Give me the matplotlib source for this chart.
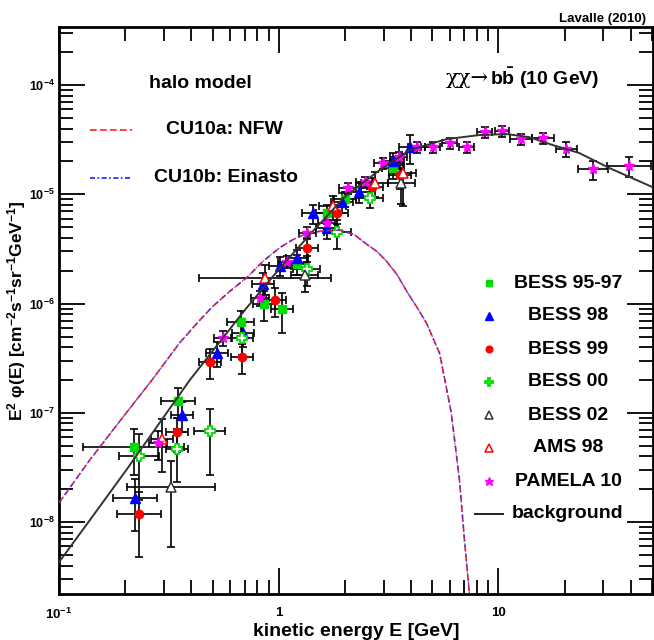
import matplotlib
matplotlib.use('Agg')
import matplotlib.pyplot as plt
import numpy as np
from matplotlib.ticker import LogLocator, NullFormatter

plt.rcParams['font.family'] = ['Liberation Sans', 'DejaVu Sans']
plt.rcParams['font.weight'] = 'bold'
plt.rcParams['mathtext.fontset'] = 'custom'
plt.rcParams['mathtext.rm'] = 'Liberation Sans:bold'
plt.rcParams['mathtext.bf'] = 'Liberation Sans:bold'
plt.rcParams['mathtext.it'] = 'Liberation Sans:italic:bold'
plt.rcParams['mathtext.sf'] = 'Liberation Sans:bold'
plt.rcParams['mathtext.default'] = 'rm'

# ---------------- data ----------------
# background (secondary antiprotons)
bg_E = [0.1, 0.138, 0.2, 0.394, 0.7, 1.0, 1.43, 2.0, 2.8, 3.94, 5.8, 8.2, 10.9, 13.8, 17.6, 23.3, 32.0, 50.0]
bg_F = [4.3e-9, 1.04e-8, 2.9e-8, 2.0e-7, 8.7e-7, 2.05e-6, 4.6e-6, 9.5e-6, 1.6e-5, 2.54e-5,
        3.2e-5, 3.49e-5, 3.56e-5, 3.34e-5, 2.83e-5, 2.39e-5, 1.74e-5, 1.17e-5]

# DM signal, chi chi -> b bbar, 10 GeV
dm_E = [0.1, 0.138, 0.2, 0.265, 0.355, 0.43, 0.5, 0.6, 0.716, 0.85, 1.01, 1.16, 1.34, 1.6, 1.89,
        2.2, 2.51, 2.8, 3.09, 3.45, 3.82, 4.25, 4.71, 5.4, 6.1, 6.65, 7.0, 7.38, 7.5]
nfw_F = [1.5e-8, 3.7e-8, 9.7e-8, 2.0e-7, 4.4e-7, 6.8e-7, 9.4e-7, 1.3e-6, 1.73e-6, 2.45e-6, 3.25e-6,
         3.85e-6, 4.37e-6, 4.65e-6, 4.7e-6, 4.3e-6, 3.5e-6, 3.0e-6, 2.45e-6, 1.85e-6, 1.3e-6,
         9.3e-7, 6.6e-7, 3.5e-7, 1.0e-7, 2.4e-8, 6.9e-9, 2.2e-9, 1.0e-9]
einasto_F = list(nfw_F)

# experiments: energy, flux, half bin width (dex), relative error
bess9597_E = [0.219, 0.348, 0.67, 0.86, 1.03, 1.21, 1.65, 2.0, 3.3]
bess9597_F = [4.9e-8, 1.29e-7, 6.8e-7, 1.0e-6, 9.0e-7, 2.3e-6, 6.7e-6, 9.1e-6, 1.74e-5]
bess9597_dE = [0.23, 0.077, 0.06, 0.05, 0.05, 0.05, 0.05, 0.05, 0.05]
bess9597_rel = [0.45, 0.3, 0.25, 0.3, 0.4, 0.2, 0.2, 0.15, 0.2]

bess98_E = [0.221, 0.362, 0.523, 0.686, 0.85, 1.01, 1.21, 1.43, 1.66, 1.95, 2.33, 3.3, 3.94]
bess98_F = [1.66e-8, 9.6e-8, 3.54e-7, 5.4e-7, 1.52e-6, 2.23e-6, 2.6e-6, 6.7e-6, 4.9e-6, 8.5e-6,
            1.05e-5, 2.0e-5, 2.7e-5]
bess98_dE = [0.1, 0.05, 0.05, 0.05, 0.05, 0.05, 0.05, 0.05, 0.05, 0.05, 0.05, 0.05, 0.05]
bess98_rel = [0.5, 0.3, 0.25, 0.25, 0.25, 0.2, 0.2, 0.2, 0.2, 0.2, 0.2, 0.2, 0.3]

bess99_E = [0.231, 0.343, 0.485, 0.68, 0.96, 1.34, 1.85, 2.65, 3.55]
bess99_F = [1.19e-8, 6.7e-8, 2.93e-7, 3.25e-7, 1.07e-6, 3.2e-6, 6.7e-6, 1.17e-5, 1.5e-5]
bess99_dE = [0.1, 0.05, 0.05, 0.05, 0.05, 0.05, 0.05, 0.05, 0.05]
bess99_rel = [0.6, 0.35, 0.3, 0.3, 0.3, 0.25, 0.2, 0.2, 0.25]

bess00_E = [0.231, 0.343, 0.485, 0.68, 1.34, 1.85, 2.59]
bess00_F = [4.0e-8, 4.7e-8, 6.8e-8, 4.86e-7, 2.09e-6, 4.5e-6, 9.3e-6]
bess00_dE = [0.09, 0.05, 0.07, 0.05, 0.06, 0.06, 0.06]
bess00_rel = [0.6, 0.5, 0.6, 0.3, 0.3, 0.3, 0.2]

bess02_E = [0.323, 1.31, 3.62]
bess02_F = [2.1e-8, 1.82e-6, 1.26e-5]
bess02_dE = [0.2, 0.06, 0.06]
bess02_rel = [0.72, 0.3, 0.35]

ams98_E = [0.294, 0.863, 1.76, 2.73, 3.66]
ams98_F = [5.8e-8, 1.73e-6, 7.8e-6, 1.27e-5, 1.57e-5]
ams98_dE = [0.05, 0.3, 0.06, 0.06, 0.06]
ams98_rel = [0.5, 0.3, 0.25, 0.25, 0.5]

pamela_E = [0.282, 0.556, 0.82, 1.09, 1.35, 1.65, 2.06, 2.46, 2.97, 3.51, 4.24, 5.01, 5.99, 7.16,
            8.64, 10.4, 12.7, 15.9, 20.4, 27.0, 39.4]
pamela_F = [5.3e-8, 4.85e-7, 1.13e-6, 2.42e-6, 4.47e-6, 5.5e-6, 1.14e-5, 1.3e-5, 1.93e-5, 2.19e-5,
            2.71e-5, 2.71e-5, 2.94e-5, 2.71e-5, 3.71e-5, 3.79e-5, 3.2e-5, 3.27e-5, 2.6e-5, 1.7e-5, 1.82e-5]
pamela_dE = [0.04, 0.04, 0.04, 0.04, 0.04, 0.04, 0.04, 0.04, 0.04, 0.04, 0.04, 0.035, 0.035, 0.035,
             0.032, 0.032, 0.05, 0.05, 0.05, 0.068, 0.1]
pamela_rel = [0.3, 0.15, 0.15, 0.12, 0.12, 0.12, 0.12, 0.12, 0.12, 0.12, 0.12, 0.12, 0.12, 0.12,
              0.12, 0.12, 0.12, 0.12, 0.15, 0.2, 0.2]

x_ticks = [0.1, 1, 10]
x_ticklabels = ['10$^{-1}$', '1', '10']
y_ticks = [1e-8, 1e-7, 1e-6, 1e-5, 1e-4]
y_ticklabels = ['10$^{-8}$', '10$^{-7}$', '10$^{-6}$', '10$^{-5}$', '10$^{-4}$']

GREEN = '#00dd00'
datasets = [
    ('BESS 95-97', bess9597_E, bess9597_F, bess9597_dE, bess9597_rel,
     dict(marker='s', mfc=GREEN, mec=GREEN, ms=6)),
    ('BESS 98', bess98_E, bess98_F, bess98_dE, bess98_rel,
     dict(marker='^', mfc='#0000ff', mec='#0000ff', ms=6.5)),
    ('BESS 99', bess99_E, bess99_F, bess99_dE, bess99_rel,
     dict(marker='o', mfc='#ff0000', mec='#ff0000', ms=6)),
    ('BESS 00', bess00_E, bess00_F, bess00_dE, bess00_rel,
     dict(marker='P', mfc='white', mec=GREEN, ms=7.5, mew=1.3)),
    ('BESS 02', bess02_E, bess02_F, bess02_dE, bess02_rel,
     dict(marker='^', mfc='white', mec='#333333', ms=7, mew=1.1)),
    ('AMS 98', ams98_E, ams98_F, ams98_dE, ams98_rel,
     dict(marker='^', mfc='white', mec='#ff0000', ms=7, mew=1.1)),
    ('PAMELA 10', pamela_E, pamela_F, pamela_dE, pamela_rel,
     dict(marker='*', mfc='#ff00ff', mec='#ff00ff', ms=8)),
]

# ---------------- figure ----------------
W, H = 654, 640
fig = plt.figure(figsize=(W / 100, H / 100), dpi=100)
ax = fig.add_axes([59 / W, 1 - 594 / H, 594 / W, 567 / H])
ax.set_xscale('log')
ax.set_yscale('log')
ax.set_xlim(0.1, 50.5)
ax.set_ylim(2.2e-9, 3.4e-4)

# data error bars first, then markers
for name, E, F, dE, rel, st in datasets:
    E = np.array(E); F = np.array(F); dE = np.array(dE); rel = np.array(rel)
    xerr = [E - E / 10 ** dE, E * 10 ** dE - E]
    yerr = [np.minimum(rel * F, 0.92 * F), rel * F]
    ax.errorbar(E, F, xerr=xerr, yerr=yerr, fmt='none', ecolor='black', elinewidth=1.2,
                capsize=3.2, capthick=1.2, zorder=2)
for name, E, F, dE, rel, st in datasets:
    ax.plot(E, F, linestyle='none', zorder=3, **st)

# curves
ax.plot(bg_E, bg_F, color='#333333', lw=1.4, zorder=4)
ax.plot(dm_E, nfw_F, color='#ff2020', lw=1.2, dashes=(4, 2), zorder=4)
ax.plot(dm_E, einasto_F, color='#3030ff', lw=1.0, dashes=(3, 1.5, 1, 1.5), zorder=4, alpha=0.8)

# axes styling (ROOT-like)
for s in ax.spines.values():
    s.set_linewidth(2)
ax.tick_params(which='both', direction='in', top=True, right=True, width=1.3, colors='black')
ax.tick_params(which='major', length=19)
ax.tick_params(which='minor', length=10)
ax.xaxis.set_minor_locator(LogLocator(base=10, subs=np.arange(2, 10), numticks=50))
ax.yaxis.set_minor_locator(LogLocator(base=10, subs=np.arange(2, 10), numticks=50))
ax.xaxis.set_minor_formatter(NullFormatter())
ax.yaxis.set_minor_formatter(NullFormatter())
ax.set_xticks(x_ticks, x_ticklabels)
ax.set_yticks(y_ticks, y_ticklabels)
ax.tick_params(axis='x', which='major', labelsize=9.5, pad=9)
ax.tick_params(axis='y', which='major', labelsize=9, pad=3)

ax.set_xlabel('kinetic energy E [GeV]', fontsize=14, fontweight='bold')
ax.xaxis.set_label_coords(0.5, -0.051)
ax.set_ylabel('E$^{2}$ φ(E) [cm$^{-2}$s$^{-1}$sr$^{-1}$GeV$^{-1}$]', fontsize=12.5, fontweight='bold')
ax.yaxis.set_label_coords(-0.052, 0.5)


def axp(px, py):
    """pixel position in the figure -> axes fraction"""
    return (px - 59) / 594, (594 - py) / 567


# halo-model legend
tx, ty = axp(200, 83)
ax.text(tx, ty, 'halo model', transform=ax.transAxes, ha='center', va='center', fontsize=14)
x1, y1 = axp(90, 130); x2, _ = axp(132, 130)
ax.plot([x1, x2], [y1, y1], transform=ax.transAxes, color='#ff2020', lw=1.2, dashes=(4, 2))
tx, ty = axp(224, 130)
ax.text(tx, ty, 'CU10a: NFW', transform=ax.transAxes, ha='center', va='center', fontsize=14)
x1, y1 = axp(90, 178); x2, _ = axp(132, 178)
ax.plot([x1, x2], [y1, y1], transform=ax.transAxes, color='#2020ff', lw=1.2, dashes=(3, 1.5, 1, 1.5))
tx, ty = axp(226, 178)
ax.text(tx, ty, 'CU10b: Einasto', transform=ax.transAxes, ha='center', va='center', fontsize=14)

# channel label: Greek part in a serif face, rest in bold sans
tx, ty = axp(489, 78)
ax.text(tx, ty, 'χχ→', transform=ax.transAxes, ha='right', va='center', fontsize=15,
        family=['DejaVu Serif'], fontweight='normal')
tx, ty = axp(490, 78)
ax.text(tx, ty, r'b$\bar{\mathrm{b}}$ (10 GeV)', transform=ax.transAxes, ha='left', va='center',
        fontsize=14)

# data legend
for i, (name, E, F, dE, rel, st) in enumerate(datasets):
    py = 283 + 33 * i
    mx, my = axp(489, py)
    st2 = dict(st)
    st2['ms'] = st['ms'] * 0.8
    ax.plot([mx], [my], transform=ax.transAxes, linestyle='none', clip_on=False, **st2)
    tx, ty = axp(568, py)
    ax.text(tx, ty, name, transform=ax.transAxes, ha='center', va='center', fontsize=14)
py = 283 + 33 * 7
x1, y1 = axp(475, py); x2, _ = axp(503, py)
ax.plot([x1, x2], [y1, y1], transform=ax.transAxes, color='#222222', lw=1.4)
tx, ty = axp(568, py)
ax.text(tx, ty, 'background', transform=ax.transAxes, ha='center', va='center', fontsize=14)

fig.text(646 / W, 1 - 19 / H, 'Lavalle (2010)', ha='right', va='center', fontsize=9.5)

fig.savefig('out.png', dpi=100)
